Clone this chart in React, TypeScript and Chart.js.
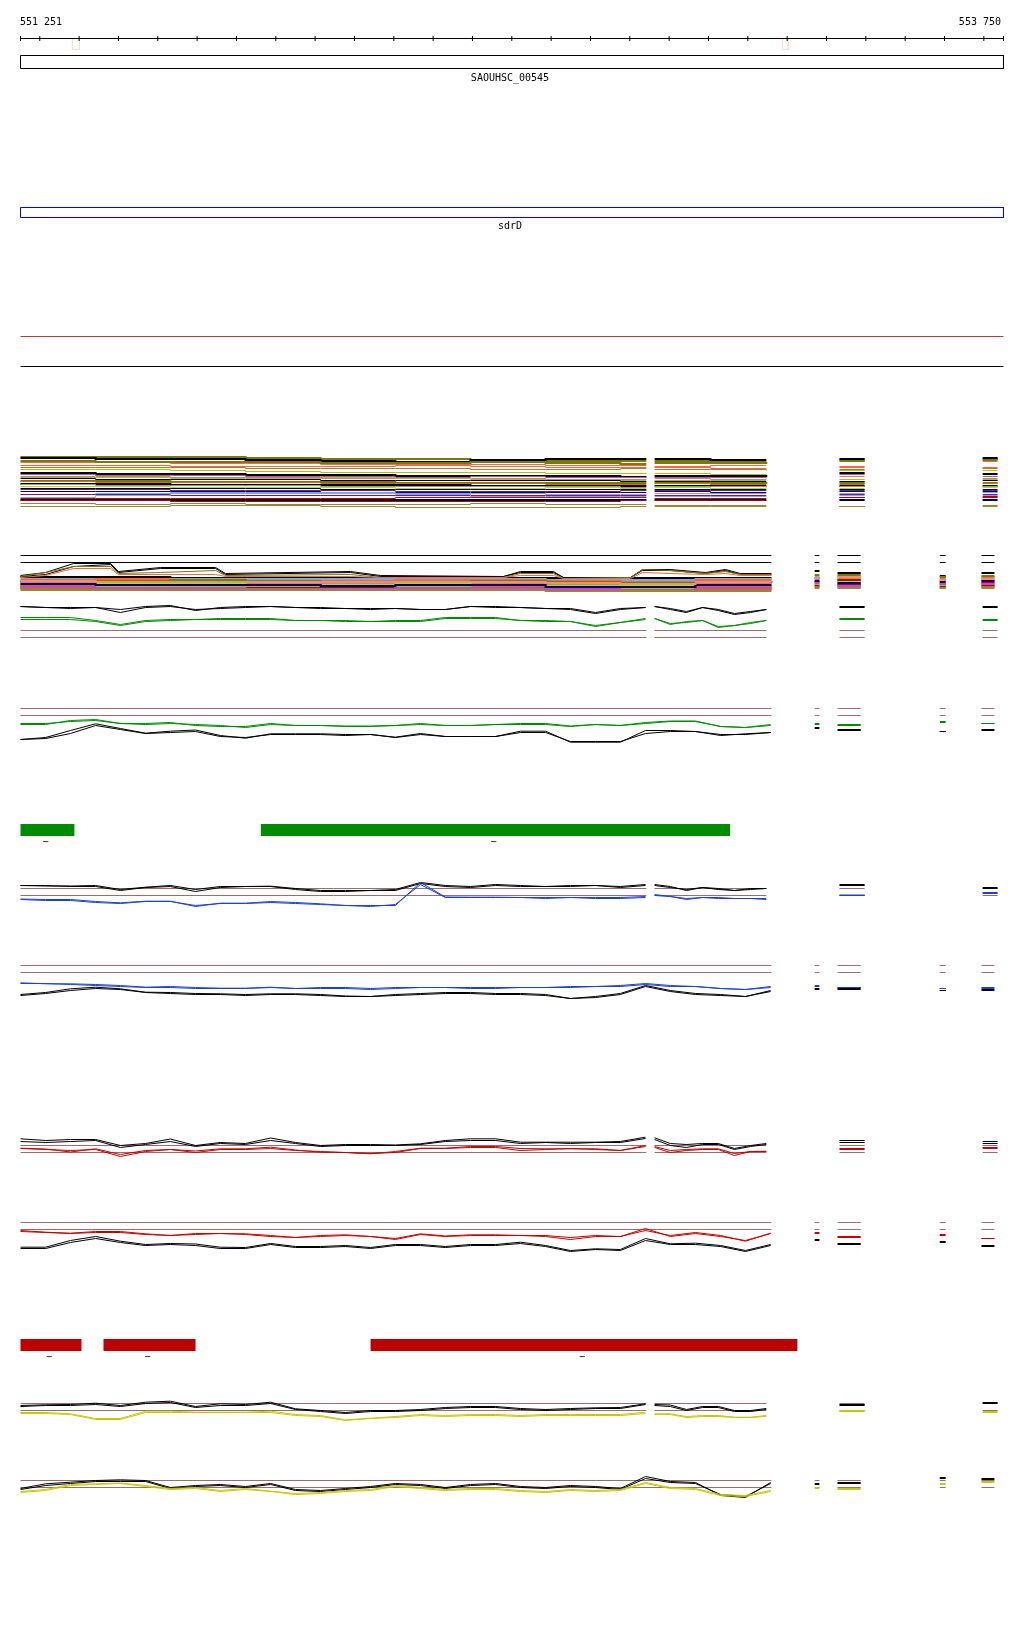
import React, { useEffect, useRef } from "react";
import { Chart, registerables } from "chart.js";

Chart.register(...registerables);

// ---------------- view / ruler ----------------
const VIEW_START = 551251;
const VIEW_END = 553750;
const RULER_TICKS = [551251, 551300, 551400, 551500, 551600, 551700, 551800, 551900, 552000, 552100, 552200, 552300, 552400, 552500, 552600, 552700, 552800, 552900, 553000, 553100, 553200, 553300, 553400, 553500, 553600, 553700, 553750];
const RULER_MARKS = [[551383, 551401], [553188, 553203]];

// ---------------- genes & features ----------------
const GENE_NAMES = ["SAOUHSC_00545", "sdrD"];
const GENE_SPANS = [[551251, 553750], [551251, 553750]];
const GREEN_BARS = [[551251, 551388], [551862, 553055]];
const GREEN_LABELS = ["−", "−"];
const RED_BARS = [[551251, 551406], [551462, 551696], [552141, 553226]];
const RED_LABELS = ["−", "−", "−"];

// ---------------- sample positions ----------------
const SIG_A1_POS = [551251, 551315, 551378, 551442, 551505, 551569, 551632, 551696, 551759, 551823, 551887, 551950, 552014, 552077, 552141, 552204, 552268, 552331, 552395, 552459, 552522, 552586, 552649, 552713, 552776, 552840];
const SIG_A2_POS = [552863, 552903, 552944, 552985, 553025, 553066, 553107, 553147];
const SIG_B1_POS = [551251, 551315, 551378, 551442, 551505, 551569, 551632, 551696, 551759, 551823, 551887, 551950, 552014, 552077, 552141, 552204, 552268, 552331, 552395, 552459, 552522, 552586, 552649, 552713, 552776, 552840, 552903, 552967, 553031, 553094, 553158];
const FRAG_A3 = [553333, 553397];
const FRAG_A4 = [553697, 553735];
const FRAG_B2 = [553270, 553282];
const FRAG_B3 = [553328, 553387];
const FRAG_B4 = [553588, 553603];
const FRAG_B5 = [553694, 553727];
const A1_EXTENT = [551251, 552842];
const A2_EXTENT = [552863, 553147];
const B1_EXTENT = [551251, 553160];
const T1_POS_A1 = [551251, 551442, 551632, 551823, 552014, 552204, 552395, 552586, 552776, 552842];
const T1_POS_A2 = [552863, 553005, 553147];
const T2_POS_B1 = [551251, 551442, 551632, 551823, 552014, 552204, 552395, 552586, 552776, 552967, 553160];
const T2_HUMP_POS = [551251, 551315, 551386, 551480, 551500, 551607, 551747, 551772, 552090, 552166, 552479, 552522, 552606, 552631, 552802, 552832, 552903, 552992, 553043, 553081, 553160];

// ---------------- track 1 (multi-sample levels) ----------------
const track1Colors = ["#7a7a00", "#000000", "#ff6347", "#7a7a00", "#ff6347", "#b07820", "#99cc00", "#000000", "#cc44cc", "#cc8080", "#99cc00", "#000000", "#7a7a00", "#d2691e", "#000000", "#cc8080", "#66ff33", "#000000", "#990099", "#000066", "#66b3e6", "#990099", "#66b3e6", "#cc0000", "#000000", "#99003d", "#998833", "#998833"];
const track1Rows = [
  [6, 6, 6, 7, 8, 8, 9, 10, 10, 10, 10, 10, 10, 9, 8],
  [7, 8, 8, 9, 10, 11, 9, 8, 8, 8, 8, 9, 9, 8, 7],
  [12, 12, 13, 13, 14, 14, 14, 15, 15, 15, 16, 15, 15, 16, 11],
  [10, 11, 11, 11, 12, 12, 11, 12, 13, 13, 12, 12, 13, 10, 9],
  [15, 15, 16, 16, 16, 15, 16, 17, 17, 17, 17, 18, 18, 17, 17],
  [17, 17, 17, 18, 18, 18, 19, 19, 18, 18, 19, 19, 20, 19, 18],
  [19, 19, 20, 21, 22, 22, 22, 23, 23, 23, 23, 24, 24, 20, 20],
  [22, 23, 23, 24, 24, 25, 25, 25, 26, 26, 25, 25, 26, 22, 23],
  [24, 25, 25, 26, 26, 27, 26, 27, 27, 27, 27, 27, 28, 24, 26],
  [26, 26, 27, 27, 28, 28, 28, 29, 29, 29, 28, 29, 29, 26, 28],
  [27, 27, 28, 28, 27, 28, 29, 30, 30, 30, 30, 30, 30, 29, 29],
  [28, 29, 29, 29, 30, 30, 30, 30, 31, 31, 31, 31, 31, 31, 30],
  [30, 30, 31, 31, 31, 32, 32, 32, 32, 32, 32, 32, 33, 32, 32],
  [31, 32, 32, 32, 33, 33, 33, 34, 34, 34, 33, 34, 34, 34, 33],
  [33, 33, 34, 34, 34, 34, 35, 35, 35, 35, 35, 35, 35, 35, 35],
  [34, 35, 35, 35, 36, 36, 36, 36, 37, 37, 36, 36, 37, 36, 36],
  [36, 36, 37, 37, 37, 38, 38, 37, 38, 38, 37, 38, 38, 38, 37],
  [38, 38, 38, 38, 39, 39, 39, 39, 39, 39, 39, 39, 39, 39, 39],
  [39, 39, 40, 40, 40, 41, 41, 41, 40, 40, 40, 40, 40, 40, 40],
  [41, 41, 41, 41, 42, 42, 42, 42, 42, 42, 41, 42, 42, 41, 41],
  [44, 43, 42, 42, 42, 43, 43, 44, 44, 44, 43, 43, 43, 43, 42],
  [44, 44, 45, 45, 45, 45, 45, 45, 45, 45, 45, 45, 45, 44, 44],
  [47, 45, 43, 43, 43, 44, 46, 46, 46, 46, 46, 46, 46, 45, 45],
  [48, 48, 48, 48, 48, 47, 47, 47, 47, 47, 48, 48, 48, 47, 47],
  [49, 49, 49, 49, 49, 49, 49, 49, 49, 49, 49, 49, 49, 49, 49],
  [50, 50, 51, 51, 51, 51, 51, 51, 50, 50, 50, 50, 50, 47, 46],
  [53, 54, 53, 54, 54, 54, 53, 54, 54, 54, 55, 55, 55, 56, 55],
  [56, 56, 55, 55, 56, 57, 57, 57, 56, 56, 56, 56, 56, 56, 56],
];
// rows drawn with a heavier pen in the reference
const track1Heavy = [0, 1, 3, 7, 12, 14, 24];

// ---------------- track 2 (multi-sample coverage) ----------------
const track2Guides = [5, 12];
const track2Colors = ["#000000", "#66b3e6", "#ff6347", "#7a7a00", "#990099", "#cc8080", "#66ff33", "#cc0000", "#d2691e", "#99cc00", "#99003d", "#b07820", "#cc44cc", "#998833", "#000066", "#ff8c69"];
const track2Rows = [
  [26, 26, 27, 27, 27, 27, 27, 27, 27, 27, 27, 20, 22, 25, 22],
  [28, 28, 28, 28, 28, 28, 28, 29, 29, 28, 28, 26, 27, 28, 27],
  [29, 28, 29, 30, 30, 29, 29, 30, 31, 29, 29, 28, 26, 27, 26],
  [30, 30, 29, 30, 31, 31, 30, 31, 32, 31, 30, 24, 24, 26, 25],
  [31, 32, 31, 32, 32, 33, 32, 34, 35, 32, 32, 27, 30, 30, 29],
  [32, 32, 33, 33, 32, 32, 33, 34, 36, 33, 33, 29, 28, 31, 30],
  [33, 33, 33, 34, 34, 33, 34, 35, 34, 34, 34, 30, 31, 32, 31],
  [34, 34, 35, 34, 35, 35, 35, 36, 37, 35, 35, 31, 29, 33, 32],
  [35, 35, 36, 36, 36, 36, 36, 38, 39, 36, 36, 33, 33, 34, 33],
  [36, 36, 35, 36, 37, 36, 37, 37, 38, 37, 37, 34, 32, 35, 34],
  [37, 37, 37, 37, 37, 38, 38, 39, 40, 38, 38, 35, 34, 36, 35],
  [38, 38, 38, 38, 39, 38, 39, 39, 40, 39, 39, 36, 36, 37, 36],
  [36, 37, 37, 38, 38, 37, 37, 38, 39, 37, 37, 32, 35, 33, 33],
  [39, 39, 39, 39, 39, 39, 39, 40, 40, 40, 40, 37, 37, 37, 37],
  [33, 34, 34, 34, 35, 34, 34, 36, 36, 34, 34, 30, 32, 31, 30],
  [30, 31, 31, 31, 31, 31, 31, 32, 33, 31, 31, 27, 26, 29, 28],
];
const track2HumpColors = ["#000000", "#000000", "#7a7a00", "#ff6347"];
const track2HumpRows = [
  [25, 22, 13, 13, 21, 17, 17, 23, 21, 25, 26, 21, 21, 27, 27, 19, 19, 22, 19, 23, 23],
  [26, 24, 16, 14, 22, 18, 18, 24, 22, 26, 26, 22, 22, 27, 27, 20, 20, 23, 20, 24, 24],
  [26, 22, 16, 16, 23, 22, 20, 25, 24, 27, 27, 23, 23, 28, 27, 19, 20, 23, 21, 24, 24],
  [27, 25, 18, 18, 24, 24, 24, 26, 26, 27, 27, 25, 25, 28, 28, 22, 23, 24, 23, 25, 25],
];

// ---------------- signal tracks ----------------
const T3_BLACK_1 = [34, 33, 33, 33, 31, 34, 35, 30, 33, 34, 34, 33, 33, 32, 32, 32, 31, 31, 34, 34, 33, 32, 32, 28, 32, 33, 34, 32, 29, 33, 30, 26, 28, 31, 34, 34];
const T3_BLACK_2 = [34, 33, 32, 33, 28, 33, 34, 31, 32, 33, 34, 33, 32, 32, 31, 32, 31, 31, 34, 33, 33, 32, 31, 27, 31, 33, 34, 31, 28, 33, 31, 27, 29, 31, 33, 33];
const T3_GREEN_1 = [23, 23, 23, 20, 16, 20, 21, 21, 22, 22, 22, 20, 20, 20, 19, 20, 20, 23, 23, 23, 20, 20, 19, 15, 18, 22, 22, 17, 18, 20, 14, 15, 17, 20, 22, 21];
const T3_GREEN_2 = [21, 21, 21, 19, 15, 19, 20, 21, 21, 21, 21, 20, 20, 19, 19, 19, 19, 22, 22, 22, 20, 19, 19, 14, 18, 21, 22, 16, 19, 20, 13, 15, 18, 20, 21, 20];
const T3_REFS = [10, 3];

const T4_GREEN_1 = [22, 22, 24, 25, 22, 22, 23, 20, 19, 19, 22, 20, 20, 19.5, 19.5, 20, 22, 20, 20, 21, 22, 22, 19.5, 21, 20, 23, 24.5, 24.5, 19, 18, 21, 22, 21, 24, 22];
const T4_GREEN_2 = [21, 21, 25, 26, 22, 21, 22, 21, 20, 18, 21, 20, 20, 19, 19, 20, 21, 20, 20, 21, 21, 21, 19, 21, 20, 22, 24, 24, 19, 18, 20, 21, 20, 23, 22];
const T4_BLACK_1 = [6, 8, 15, 21.7, 17, 12.3, 14.3, 15.5, 10, 7.3, 11.7, 11.7, 11.7, 11, 11, 8.3, 12, 9, 9, 9, 14.3, 14.3, 3.3, 3.3, 3.3, 15, 15, 14, 10, 11.7, 13, 18, 16, 14, 16];
const T4_BLACK_2 = [6, 7, 12, 20, 16, 12, 13, 14, 9, 8, 11, 11, 11, 10, 11, 8, 11, 9, 9, 9, 13, 13, 4, 4, 4, 12, 14, 14, 11, 11, 13, 17, 15, 14, 15];
const T4_REFS = [37, 30];

const T5_BLACK_1 = [25, 24.5, 24.5, 25, 21, 23.3, 25, 21, 24, 24, 24.3, 22, 20, 20, 20, 21, 28, 25, 24, 26, 25, 24, 25, 25, 24, 26, 26, 24, 20, 23, 22, 20, 21, 22, 26, 23];
const T5_BLACK_2 = [25, 25, 24, 24, 20, 23, 24, 19, 23, 24, 24, 21, 19, 19, 20, 20, 27, 24, 23, 25, 24, 24, 24, 25, 23, 25, 25, 23, 21, 23, 21, 20, 22, 22, 25, 22];
const T5_BLUE_1 = [11.5, 11, 11, 9, 7.7, 9.3, 9.3, 4, 7.3, 7.3, 9, 8, 6.7, 5, 5, 5, 28, 13.5, 13.3, 13.3, 13, 13, 13, 13, 13, 14, 16, 14, 11, 13, 13, 12, 12, 11, 15.5, 18];
const T5_BLUE_2 = [11, 10, 10, 8, 7, 9, 9, 5, 7, 7, 8, 7, 6, 5, 4, 6, 26, 13, 13, 13, 13, 12, 13, 12, 12, 13, 15, 14, 12, 13, 12, 12, 12, 12, 15, 17];
const T5_REFS = [22, 15];

const T6_BLUE_1 = [17.7, 16.7, 16.7, 16, 15, 13.3, 14, 13, 12.3, 12.3, 13.3, 12, 13, 13, 12, 13, 13, 13, 13, 13, 13, 13, 14, 14, 15, 17, 15, 14, 12, 11, 14, 15, 13, 12, 13];
const T6_BLUE_2 = [17, 17, 16, 15, 14, 13, 13, 12, 12, 12, 13, 12, 12, 12, 11, 12, 13, 13, 12, 12, 13, 13, 13, 14, 14, 16, 14, 14, 12, 11, 13, 14, 13, 12, 12];
const T6_BLACK_1 = [6, 8, 11.7, 13.3, 11.7, 8.3, 8, 7, 6.7, 6, 6.7, 6.7, 6, 4.5, 4, 6, 7, 8, 8, 7, 7, 6, 2, 4, 7, 15, 10, 7, 6, 4, 10, 12, 12, 10, 11];
const T6_BLACK_2 = [5, 7, 10, 12, 11, 8, 7, 6, 6, 5, 6, 6, 5, 4, 4, 5, 6, 7, 7, 6, 6, 5, 2, 3, 6, 14, 9, 6, 5, 4, 9, 11, 11, 10, 10];
const T6_REFS = [35, 28];

const T7_BLACK_1 = [21.7, 20, 21, 21, 15, 17, 21.5, 15, 18, 17, 22.5, 18, 15, 16, 16, 15.5, 16.7, 20, 21.7, 21.7, 18.3, 18.3, 18.3, 18.3, 19, 23.3, 22.7, 17, 16, 17, 17, 12, 15, 17, 20, 19];
const T7_BLACK_2 = [19, 18, 19, 20, 13, 16, 19, 14, 17, 16, 20, 17, 14, 15, 15, 15, 16, 19, 20, 20, 17, 18, 17, 18, 18, 22, 21, 15, 13, 16, 16, 11, 14, 16, 18, 17];
const T7_RED_1 = [12.3, 11.5, 8.5, 11.7, 6, 10, 11, 9.5, 11.7, 11.7, 13.3, 10.5, 8.3, 8, 6.7, 9, 12.3, 12.3, 14, 14, 12, 11.7, 11.7, 11.7, 10, 15, 14, 10, 11, 11.7, 11.7, 7, 9, 9.3, 12, 13];
const T7_RED_2 = [12, 11, 10, 11, 4, 9, 11, 8, 11, 11, 12, 10, 9, 8, 7, 8, 12, 12, 13, 13, 10, 11, 12, 11, 10, 14, 13, 8, 10, 11, 11, 5, 9, 9, 11, 12];
const T7_REFS = [15, 8];

const T8_RED_1 = [30, 28.3, 27.3, 29, 29, 26.7, 25, 27, 27, 26.7, 25, 23, 25, 25.7, 24, 22, 26.7, 24.5, 25.7, 25.7, 25, 25, 23, 25, 24, 30, 25, 28, 25, 19.3, 27.3, 28, 24, 26, 22];
const T8_RED_2 = [29, 28, 27, 28, 28, 26, 25, 26, 27, 26, 24, 23, 24, 25, 24, 21, 26, 24, 25, 25, 25, 24, 21, 24, 24, 32, 24, 27, 24, 20, 27, 27, 23, 25, 22];
const T8_BLACK_1 = [13.3, 13.3, 20, 24, 19.3, 16, 17, 16.5, 13.3, 13, 17, 14, 14, 15, 13, 16, 16, 14, 16, 16, 18.3, 15, 10, 11.7, 11, 22, 16.7, 17.3, 15, 10, 16, 21, 17, 19, 15];
const T8_BLACK_2 = [12, 12, 18, 22, 18, 15, 16, 15, 12, 12, 16, 13, 13, 14, 12, 15, 15, 13, 15, 15, 17, 14, 9, 11, 10, 20, 16, 16, 14, 9, 15, 20, 16, 18, 14];
const T8_REFS = [38, 31];

const T9_BLACK_1 = [20, 20.7, 21, 22.3, 20, 23.3, 24.3, 19, 21.7, 21, 23.3, 16.7, 15, 13, 15, 15, 16, 18, 19, 19, 17, 16, 17, 17.7, 18, 21.7, 21, 20.5, 16, 19, 19, 15, 15, 17, 21, 23];
const T9_BLACK_2 = [19, 20, 20, 21, 19, 22, 23, 18, 20, 20, 22, 16, 14, 12, 14, 14, 15, 17, 18, 18, 16, 15, 16, 17, 17, 21, 20, 19, 15, 18, 18, 14, 14, 16, 20, 22];
const T9_YELLOW_1 = [13, 13, 11.7, 7, 7, 14.3, 14.3, 13.3, 13.3, 13.3, 14.3, 11, 10, 5.7, 7.3, 9, 11, 10, 11, 11, 10, 11, 11, 11, 11, 13.3, 11.7, 11.7, 9, 10, 10, 8.3, 8.3, 10, 15, 14];
const T9_YELLOW_2 = [12, 12, 11, 6, 6, 13, 13, 13, 13, 13, 13, 10, 9, 5, 7, 8, 10, 9, 10, 10, 9, 10, 10, 10, 10, 12, 11, 11, 8, 9, 9, 8, 8, 9, 14, 13];
const T9_REFS = [22, 15];

const T10_BLACK_1 = [17, 21.7, 23.3, 25, 25.7, 25, 18, 20, 21, 19, 22, 16, 15, 17, 19, 22, 21, 18, 21, 22, 19, 18, 20, 19, 17, 29, 24, 23, 10, 8, 23, 22, 23, 28, 27];
const T10_BLACK_2 = [16, 20, 22, 24, 24, 24, 17, 19, 20, 18, 21, 15, 14, 16, 18, 21, 20, 17, 20, 21, 18, 17, 19, 18, 16, 27, 23, 22, 11, 9, 22, 21, 22, 27, 26];
const T10_YELLOW_1 = [14, 16, 21, 21.7, 22.5, 20, 17, 18, 15, 17, 14.3, 12, 13, 15, 16, 20, 18, 16, 17, 17, 15, 14, 16, 15, 16, 23, 18, 17, 11, 10, 15, 18, 17, 22, 24];
const T10_YELLOW_2 = [13, 15, 20, 21, 22, 19, 16, 17, 14, 16, 14, 11, 12, 14, 15, 19, 17, 15, 16, 16, 14, 13, 15, 14, 15, 22, 17, 16, 10, 9, 14, 17, 16, 21, 23];
const T10_REFS = [25, 18];

// ---------------- styles & layout ----------------
const FONT = '10px "DejaVu Sans Mono", monospace';
const C_BLACK = "#000000";
const C_GREEN = "#008c00";
const C_BLUE = "#1c3fd6";
const C_RED = "#cc0000";
const C_YELLOW = "#c8c800";
const C_REF = "#9c6b6b";
const C_GREEN_BAR = "#008c00";
const C_RED_BAR = "#bc0000";

const BP_PER_PX = 2.54222;
const X_MIN = VIEW_START - 20.5 * BP_PER_PX;
const X_MAX = X_MIN + 1024 * BP_PER_PX;

const LAYOUT = {
  rulerY: 38,
  rulerLabelY: 24.5,
  tickRadius: 2.5,
  markTop: 38,
  markBottom: 49,
  geneBoxes: [[55, 68], [207, 217]],
  geneColors: ["#000000", "#0000ff"],
  geneLabelY: [80.5, 228],
  redLineY: 336,
  blackLineY: 366,
  t1Top: 450,
  t2Top: 550,
  greenBarY: 829.5,
  greenLabelY: 844.5,
  redBarY: 1344.5,
  redLabelY: 1359.5,
  barHeight: 12,
};

type Group = { pos?: number[]; span?: number[] };
const A_SIG: Group[] = [{ pos: SIG_A1_POS }, { pos: SIG_A2_POS }, { span: FRAG_A3 }, { span: FRAG_A4 }];
const B_SIG: Group[] = [{ pos: SIG_B1_POS }, { span: FRAG_B2 }, { span: FRAG_B3 }, { span: FRAG_B4 }, { span: FRAG_B5 }];
const A_T1: Group[] = [{ pos: T1_POS_A1 }, { pos: T1_POS_A2 }, { span: FRAG_A3 }, { span: FRAG_A4 }];
const B_T2: Group[] = [{ pos: T2_POS_B1 }, { span: FRAG_B2 }, { span: FRAG_B3 }, { span: FRAG_B4 }, { span: FRAG_B5 }];
const A_EXTENTS = [A1_EXTENT, A2_EXTENT, FRAG_A3, FRAG_A4];
const B_EXTENTS = [B1_EXTENT, FRAG_B2, FRAG_B3, FRAG_B4, FRAG_B5];

const SIGNAL_TRACKS = [
  { base: 640, groups: A_SIG, extents: A_EXTENTS, refs: T3_REFS, lines: [[T3_GREEN_1, C_GREEN], [T3_GREEN_2, C_GREEN], [T3_BLACK_1, C_BLACK], [T3_BLACK_2, C_BLACK]] },
  { base: 745, groups: B_SIG, extents: B_EXTENTS, refs: T4_REFS, lines: [[T4_GREEN_1, C_GREEN], [T4_GREEN_2, C_GREEN], [T4_BLACK_1, C_BLACK], [T4_BLACK_2, C_BLACK]] },
  { base: 910, groups: A_SIG, extents: A_EXTENTS, refs: T5_REFS, lines: [[T5_BLACK_1, C_BLACK], [T5_BLACK_2, C_BLACK], [T5_BLUE_1, C_BLUE], [T5_BLUE_2, C_BLUE]] },
  { base: 1000, groups: B_SIG, extents: B_EXTENTS, refs: T6_REFS, lines: [[T6_BLACK_1, C_BLACK], [T6_BLACK_2, C_BLACK], [T6_BLUE_1, C_BLUE], [T6_BLUE_2, C_BLUE]] },
  { base: 1160, groups: A_SIG, extents: A_EXTENTS, refs: T7_REFS, lines: [[T7_BLACK_1, C_BLACK], [T7_BLACK_2, C_BLACK], [T7_RED_1, C_RED], [T7_RED_2, C_RED]] },
  { base: 1260, groups: B_SIG, extents: B_EXTENTS, refs: T8_REFS, lines: [[T8_BLACK_1, C_BLACK], [T8_BLACK_2, C_BLACK], [T8_RED_1, C_RED], [T8_RED_2, C_RED]] },
  { base: 1425, groups: A_SIG, extents: A_EXTENTS, refs: T9_REFS, lines: [[T9_BLACK_1, C_BLACK], [T9_BLACK_2, C_BLACK], [T9_YELLOW_1, C_YELLOW], [T9_YELLOW_2, C_YELLOW]] },
  { base: 1505, groups: B_SIG, extents: B_EXTENTS, refs: T10_REFS, lines: [[T10_BLACK_1, C_BLACK], [T10_BLACK_2, C_BLACK], [T10_YELLOW_1, C_YELLOW], [T10_YELLOW_2, C_YELLOW]] },
];

type Pt = { x: number; y: number | null };

function groupPoints(groups: Group[], vals: number[], toY: (v: number) => number): Pt[] {
  const pts: Pt[] = [];
  let k = 0;
  let lastX = 0;
  groups.forEach((g, gi) => {
    const first = g.pos ? g.pos[0] : (g.span as number[])[0];
    if (gi > 0) pts.push({ x: (lastX + first) / 2, y: null });
    if (g.pos) {
      g.pos.forEach((x) => pts.push({ x, y: toY(vals[k++]) }));
      lastX = g.pos[g.pos.length - 1];
    } else {
      const s = g.span as number[];
      const y = toY(vals[k++]);
      pts.push({ x: s[0], y }, { x: s[1], y });
      lastX = s[1];
    }
  });
  return pts;
}

function extentPoints(extents: number[][], y: number): Pt[] {
  const pts: Pt[] = [];
  extents.forEach((e, i) => {
    if (i > 0) pts.push({ x: (extents[i - 1][1] + e[0]) / 2, y: null });
    pts.push({ x: e[0], y }, { x: e[1], y });
  });
  return pts;
}

function lineDs(data: Pt[], color: string, extra: any = {}) {
  return { type: "line", data, borderColor: color, backgroundColor: color, borderWidth: 1, pointRadius: 0, fill: false, tension: 0, ...extra };
}

function fmt(n: number) {
  return String(n).replace(/\B(?=(\d{3})+(?!\d))/g, " ");
}

function buildDatasets() {
  const ds: any[] = [];
  RULER_MARKS.forEach((m) => {
    ds.push(lineDs([{ x: m[0], y: LAYOUT.markTop }, { x: m[1], y: LAYOUT.markTop }, { x: m[1], y: LAYOUT.markBottom }, { x: m[0], y: LAYOUT.markBottom }, { x: m[0], y: LAYOUT.markTop }], "#ffd6c4"));
  });
  ds.push(lineDs([{ x: VIEW_START, y: LAYOUT.rulerY }, { x: VIEW_END, y: LAYOUT.rulerY }], C_BLACK));
  ds.push({
    type: "line", showLine: false, data: RULER_TICKS.map((t) => ({ x: t, y: LAYOUT.rulerY })),
    pointStyle: "line", pointRotation: 90, pointRadius: LAYOUT.tickRadius, pointBorderWidth: 1,
    pointBorderColor: C_BLACK, borderColor: C_BLACK, pointHoverRadius: 0,
  });
  GENE_SPANS.forEach((s, i) => {
    const [top, bot] = LAYOUT.geneBoxes[i];
    ds.push(lineDs([{ x: s[0], y: top }, { x: s[1], y: top }, { x: s[1], y: bot }, { x: s[0], y: bot }, { x: s[0], y: top }], LAYOUT.geneColors[i]));
  });
  ds.push(lineDs([{ x: VIEW_START, y: LAYOUT.redLineY }, { x: VIEW_END, y: LAYOUT.redLineY }], "#cc3333"));
  ds.push(lineDs([{ x: VIEW_START, y: LAYOUT.blackLineY }, { x: VIEW_END, y: LAYOUT.blackLineY }], C_BLACK));
  track1Rows.forEach((row, i) => {
    const heavy = track1Heavy.indexOf(i) >= 0;
    ds.push(lineDs(groupPoints(A_T1, row, (v) => LAYOUT.t1Top + v + (heavy ? 0.5 : 0)), track1Colors[i], { stepped: true, borderWidth: heavy ? 2 : 1 }));
  });
  track2Guides.forEach((g) => ds.push(lineDs(extentPoints(B_EXTENTS, LAYOUT.t2Top + g), C_BLACK)));
  track2Rows.forEach((row, i) => {
    ds.push(lineDs(groupPoints(B_T2, row, (v) => LAYOUT.t2Top + v + 0.5), track2Colors[i], { stepped: true, borderWidth: 2 }));
  });
  track2HumpRows.forEach((row, i) => {
    ds.push(lineDs(T2_HUMP_POS.map((x, j) => ({ x, y: LAYOUT.t2Top + row[j] })), track2HumpColors[i]));
  });
  SIGNAL_TRACKS.forEach((t) => {
    t.refs.forEach((r) => ds.push(lineDs(extentPoints(t.extents, t.base - r), C_REF)));
    t.lines.forEach(([vals, color]) => {
      ds.push(lineDs(groupPoints(t.groups, vals as number[], (v) => t.base - v), color as string));
    });
  });
  GREEN_BARS.forEach((b) => ds.push(lineDs([{ x: b[0], y: LAYOUT.greenBarY }, { x: b[1], y: LAYOUT.greenBarY }], C_GREEN_BAR, { borderWidth: LAYOUT.barHeight, borderCapStyle: "butt" })));
  RED_BARS.forEach((b) => ds.push(lineDs([{ x: b[0], y: LAYOUT.redBarY }, { x: b[1], y: LAYOUT.redBarY }], C_RED_BAR, { borderWidth: LAYOUT.barHeight, borderCapStyle: "butt" })));
  ds.forEach((d, i) => (d.order = -i));
  return ds;
}

const textPlugin = {
  id: "trackText",
  afterDatasetsDraw(chart: any) {
    const ctx = chart.ctx;
    const xs = chart.scales.x;
    const ys = chart.scales.y;
    ctx.save();
    ctx.fillStyle = "#000";
    ctx.font = FONT;
    ctx.textBaseline = "alphabetic";
    ctx.textAlign = "left";
    ctx.fillText(fmt(VIEW_START), Math.round(xs.getPixelForValue(VIEW_START)) - 1, ys.getPixelForValue(LAYOUT.rulerLabelY));
    ctx.textAlign = "right";
    ctx.fillText(fmt(VIEW_END), Math.round(xs.getPixelForValue(VIEW_END)) - 2, ys.getPixelForValue(LAYOUT.rulerLabelY));
    ctx.textAlign = "center";
    GENE_NAMES.forEach((n, i) => {
      const c = (GENE_SPANS[i][0] + GENE_SPANS[i][1]) / 2;
      ctx.fillText(n, Math.round(xs.getPixelForValue(c)) - 2, ys.getPixelForValue(LAYOUT.geneLabelY[i]));
    });
    GREEN_BARS.forEach((b, i) => {
      ctx.fillText(GREEN_LABELS[i], xs.getPixelForValue((b[0] + b[1]) / 2) - 2, ys.getPixelForValue(LAYOUT.greenLabelY));
    });
    RED_BARS.forEach((b, i) => {
      ctx.fillText(RED_LABELS[i], xs.getPixelForValue((b[0] + b[1]) / 2) - 2, ys.getPixelForValue(LAYOUT.redLabelY));
    });
    ctx.restore();
  },
};

export default function App() {
  const ref = useRef<HTMLCanvasElement | null>(null);
  useEffect(() => {
    if (!ref.current) return;
    const chart = new Chart(ref.current, {
      type: "line",
      data: { datasets: buildDatasets() },
      options: {
        animation: false,
        responsive: false,
        maintainAspectRatio: false,
        devicePixelRatio: 1,
        events: [],
        layout: { padding: 0, autoPadding: false },
        plugins: { legend: { display: false }, tooltip: { enabled: false } },
        scales: {
          x: { type: "linear", min: X_MIN, max: X_MAX, display: false },
          y: { type: "linear", min: -0.5, max: 1639.5, reverse: true, display: false },
        },
        elements: { point: { radius: 0 }, line: { borderWidth: 1, tension: 0 } },
      } as any,
      plugins: [textPlugin],
    } as any);
    return () => chart.destroy();
  }, []);
  return (
    <div style={{ position: "absolute", left: 0, top: 0, width: 1024, height: 1640, background: "#fff" }}>
      <canvas ref={ref} width={1024} height={1640} style={{ display: "block", width: 1024, height: 1640 }} />
    </div>
  );
}
